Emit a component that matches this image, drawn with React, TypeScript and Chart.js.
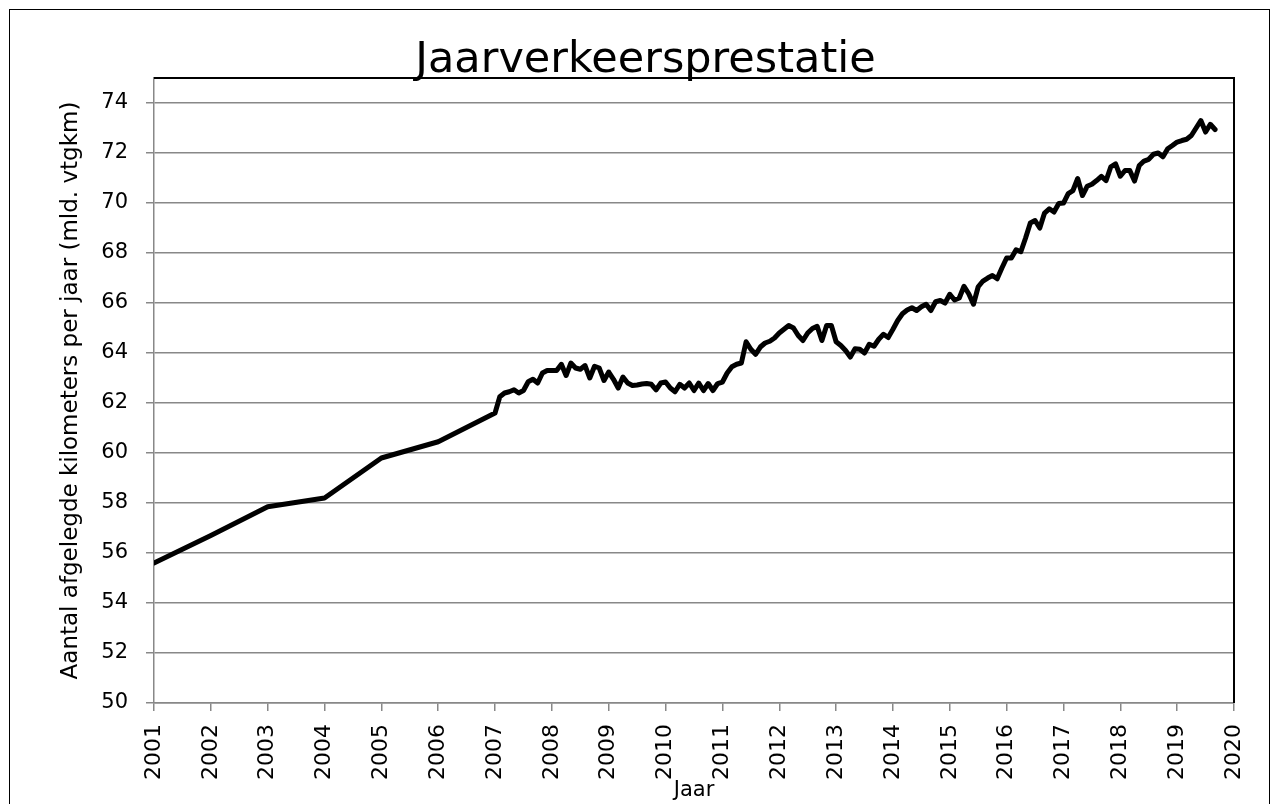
import React, { useEffect, useRef } from "react";
import { Chart, registerables } from "chart.js";

Chart.register(...registerables);

const chartTitle = "Jaarverkeersprestatie";
const yAxisTitle = "Aantal afgelegde kilometers per jaar (mld. vtgkm)";
const xAxisTitle = "Jaar";

// yearly values 2001-2006
const yearlyYears = [2001, 2002, 2003, 2004, 2005, 2006];
const yearlyValues = [55.6, 56.7, 57.85, 58.2, 59.8, 60.45];

// monthly values starting January 2007
const monthlyStartYear = 2007;
const monthlyValues = [
  61.6, 62.25, 62.4, 62.45, 62.53, 62.4, 62.5, 62.85, 62.95, 62.8, 63.2, 63.3,
  63.3, 63.3, 63.55, 63.1, 63.6, 63.4, 63.35, 63.5, 63.0, 63.47, 63.4, 62.9,
  63.24, 62.95, 62.6, 63.04, 62.8, 62.7, 62.72, 62.76, 62.78, 62.75, 62.53, 62.8,
  62.84, 62.6, 62.45, 62.75, 62.6, 62.8, 62.5, 62.8, 62.5, 62.78, 62.5, 62.78,
  62.84, 63.2, 63.45, 63.55, 63.6, 64.45, 64.15, 63.95, 64.24, 64.4, 64.47, 64.6,
  64.8, 64.95, 65.1, 65.0, 64.7, 64.5, 64.8, 64.98, 65.07, 64.5, 65.1, 65.1,
  64.45, 64.3, 64.1, 63.84, 64.17, 64.15, 64.0, 64.35, 64.27, 64.55, 64.75, 64.62,
  64.95, 65.3, 65.57, 65.72, 65.81, 65.7, 65.85, 65.95, 65.7, 66.05, 66.1, 66.0,
  66.35, 66.12, 66.2, 66.67, 66.37, 65.95, 66.65, 66.88, 67.0, 67.1, 66.97, 67.4,
  67.8, 67.8, 68.13, 68.05, 68.6, 69.2, 69.3, 69.0, 69.6, 69.77, 69.64, 69.98,
  70.0, 70.38, 70.5, 70.98, 70.3, 70.67, 70.75, 70.9, 71.07, 70.9, 71.45, 71.57,
  71.07, 71.3, 71.3, 70.88, 71.5, 71.68, 71.75, 71.95, 72.0, 71.85, 72.17, 72.3,
  72.44, 72.5, 72.55, 72.7, 73.0, 73.3, 72.84, 73.15, 72.94,
];

const yTickValues = [50, 52, 54, 56, 58, 60, 62, 64, 66, 68, 70, 72, 74];
const xTickYears = [
  2001, 2002, 2003, 2004, 2005, 2006, 2007, 2008, 2009, 2010,
  2011, 2012, 2013, 2014, 2015, 2016, 2017, 2018, 2019, 2020,
];

const FONT = "'DejaVu Sans', 'Open Sans', sans-serif";

export default function App() {
  const ref = useRef<HTMLCanvasElement | null>(null);

  useEffect(() => {
    if (!ref.current) return;
    const points = [
      ...yearlyYears.map((yr, i) => ({ x: yr, y: yearlyValues[i] })),
      ...monthlyValues.map((v, i) => ({ x: monthlyStartYear + i / 12, y: v })),
    ];

    const frame = {
      id: "plotFrame",
      afterDraw(chart: any) {
        const { ctx, chartArea } = chart;
        ctx.save();
        ctx.strokeStyle = "#000";
        ctx.lineWidth = 2;
        ctx.beginPath();
        ctx.moveTo(chartArea.left, chartArea.top);
        ctx.lineTo(chartArea.right, chartArea.top);
        ctx.lineTo(chartArea.right, chartArea.bottom);
        ctx.stroke();
        ctx.restore();
      },
    };

    const chart = new Chart(ref.current, {
      type: "line",
      data: {
        datasets: [
          {
            data: points,
            borderColor: "#000",
            borderWidth: 5,
            pointRadius: 0,
            borderJoinStyle: "round",
            borderCapStyle: "round",
            tension: 0,
            fill: false,
          },
        ],
      },
      options: {
        animation: false,
        responsive: false,
        parsing: false as any,
        layout: { padding: { left: 37, right: 40, top: 0, bottom: 0 } },
        plugins: {
          legend: { display: false },
          tooltip: { enabled: false },
          title: {
            display: true,
            text: chartTitle,
            color: "#000",
            font: { family: FONT, size: 43, weight: "normal", lineHeight: 0.78 },
            padding: { top: 44.5, bottom: 0 },
          },
        },
        scales: {
          x: {
            type: "linear",
            min: 2001,
            max: 2020,
            afterBuildTicks: (s: any) => {
              s.ticks = xTickYears.map((v) => ({ value: v }));
            },
            afterFit: (s: any) => {
              s.height = 101;
            },
            ticks: {
              autoSkip: false,
              maxRotation: 90,
              minRotation: 90,
              padding: 13,
              color: "#000",
              font: { family: FONT, size: 22 },
              callback: (v: any) => String(v),
            },
            grid: {
              drawOnChartArea: false,
              drawTicks: true,
              tickLength: 8,
              color: "#888",
              lineWidth: 1.5,
            },
            border: { color: "#888", width: 1.5 },
            title: {
              display: true,
              text: xAxisTitle,
              color: "#000",
              font: { family: FONT, size: 21 },
              padding: { top: 0, bottom: 1 },
            },
          },
          y: {
            type: "linear",
            min: 50,
            max: 75,
            afterBuildTicks: (s: any) => {
              s.ticks = yTickValues.map((v) => ({ value: v }));
            },
            afterFit: (s: any) => {
              s.width = 97;
            },
            ticks: {
              padding: 18,
              color: "#000",
              font: { family: FONT, size: 21 },
              callback: (v: any) => String(v),
            },
            grid: {
              color: "#888",
              lineWidth: 1.5,
              tickLength: 8,
            },
            border: { color: "#888", width: 1.5 },
            title: {
              display: true,
              text: yAxisTitle,
              color: "#000",
              font: { family: FONT, size: 23 },
              padding: { top: 0, bottom: 0 },
            },
          },
        },
      },
      plugins: [frame],
    } as any);

    return () => chart.destroy();
  }, []);

  return (
    <div>
      <div
        style={{
          position: "fixed",
          left: 9,
          top: 9,
          width: 1259,
          height: 820,
          border: "1px solid #000",
          boxSizing: "content-box",
        }}
      />
      <canvas
        ref={ref}
        width={1254}
        height={804}
        style={{ position: "fixed", left: 20, top: 0, width: 1254, height: 804 }}
      />
    </div>
  );
}
